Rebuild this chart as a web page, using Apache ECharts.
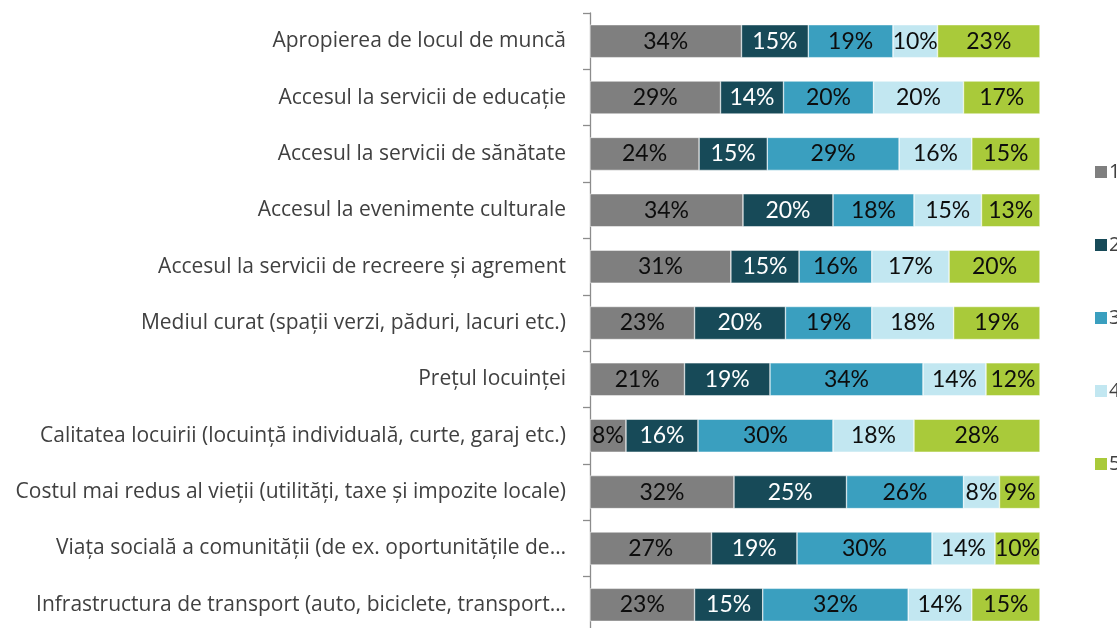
<!DOCTYPE html>
<html>
<head>
<meta charset="utf-8">
<script src="https://cdn.jsdelivr.net/npm/echarts@6/dist/echarts.min.js"></script>
<style>
  html, body { margin: 0; padding: 0; background: #ffffff; }
  #chart { width: 1117px; height: 628px; }
</style>
</head>
<body>
<div id="chart"></div>
<script>
// Factors, top to bottom
const categories = [
  'Apropierea de locul de muncă',
  'Accesul la servicii de educație',
  'Accesul la servicii de sănătate',
  'Accesul la evenimente culturale',
  'Accesul la servicii de recreere și agrement',
  'Mediul curat (spații verzi, păduri, lacuri etc.)',
  'Prețul locuinței',
  'Calitatea locuirii (locuință individuală, curte, garaj etc.)',
  'Costul mai redus al vieții (utilități, taxe și impozite locale)',
  'Viața socială a comunității (de ex. oportunitățile de…',
  'Infrastructura de transport (auto, biciclete, transport…'
];

// Share of answers (%) for each rating, 1 to 5
const rating1 = [34, 29, 24, 34, 31, 23, 21, 8, 32, 27, 23];
const rating2 = [15, 14, 15, 20, 15, 20, 19, 16, 25, 19, 15];
const rating3 = [19, 20, 29, 18, 16, 19, 34, 30, 26, 30, 32];
const rating4 = [10, 20, 16, 15, 17, 18, 14, 18, 8, 14, 14];
const rating5 = [23, 17, 15, 13, 20, 19, 12, 28, 9, 10, 15];

const ratingNames = ['1', '2', '3', '4', '5'];
const ratingValues = [rating1, rating2, rating3, rating4, rating5];
const colors = ['#7f7f7f', '#174a58', '#3a9fbf', '#c2e7f1', '#a9ca3a'];
const labelColors = ['#0d0d0d', '#ffffff', '#0d0d0d', '#0d0d0d', '#0d0d0d'];

// Each row is drawn as a 100% stack of its own total
const rowTotals = categories.map((_, i) =>
  ratingValues.reduce((s, arr) => s + arr[i], 0));

const series = ratingValues.map((vals, k) => ({
  name: ratingNames[k],
  type: 'bar',
  stack: 'all',
  barWidth: 33,
  itemStyle: { color: colors[k], borderColor: '#ffffff', borderWidth: 0.5 },
  label: {
    show: true,
    position: 'inside',
    color: labelColors[k],
    fontFamily: 'Lato',
    fontSize: 23,
    formatter: p => vals[p.dataIndex] + '%'
  },
  emphasis: { disabled: true },
  data: vals.map((v, i) => v / rowTotals[i] * 100)
}));

const chart = echarts.init(document.getElementById('chart'), null, { renderer: 'canvas' });
chart.setOption({
  animation: false,
  backgroundColor: '#ffffff',
  grid: {
    left: 590, right: 77, top: 13, height: 620,
    containLabel: false,
    outerBoundsMode: 'none'
  },
  legend: {
    orient: 'vertical',
    left: 1088,
    top: 157,
    itemWidth: 14,
    itemHeight: 14,
    itemGap: 53,
    icon: 'rect',
    textStyle: { color: '#404040', fontFamily: 'Open Sans', fontSize: 20, padding: [0, 0, 0, -4] },
    data: ratingNames
  },
  xAxis: {
    type: 'value',
    min: 0,
    max: 100,
    show: false
  },
  yAxis: {
    type: 'category',
    inverse: true,
    data: categories,
    axisLine: { show: true, lineStyle: { color: '#8c8c8c', width: 1.3 } },
    axisTick: { show: true, length: 7, lineStyle: { color: '#8c8c8c', width: 1.3 } },
    axisLabel: {
      margin: 24,
      color: '#404040',
      fontFamily: 'Open Sans',
      fontSize: 21
    }
  },
  series: series
});
</script>
</body>
</html>
